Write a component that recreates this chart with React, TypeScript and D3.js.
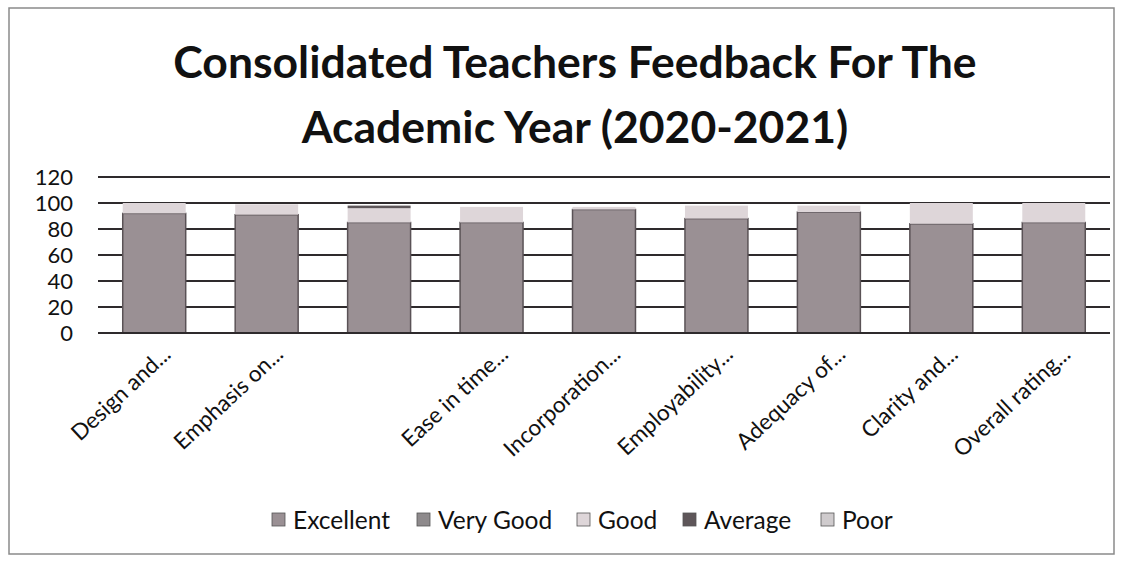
import React from 'react';
import * as d3 from 'd3';

const categories = [
  'Design and...',
  'Emphasis on...',
  '',
  'Ease in time...',
  'Incorporation...',
  'Employability...',
  'Adequacy of...',
  'Clarity and...',
  'Overall rating...',
];
const seriesNames = ['Excellent', 'Very Good', 'Good', 'Average', 'Poor'];
const excellent = [92, 91, 85, 85, 95, 88, 93, 84, 85];
const veryGood = [0, 0, 0, 0, 0, 0, 0, 0, 0];
const good = [8, 8, 11, 12, 2, 10, 5, 16, 15];
const average = [0, 0, 2, 0, 0, 0, 0, 0, 0];
const poor = [0, 0, 0, 0, 0, 0, 0, 0, 0];
const yTicks = [0, 20, 40, 60, 80, 100, 120];

const colors = ['#9a9094', '#8e8a8c', '#ded6d9', '#5e5659', '#cfcbcd'];
const font = 'Lato, "Open Sans", sans-serif';

export default function App() {
  const W = 1126, H = 561;
  const keys = d3.range(categories.length).map(String);
  const x = d3.scaleBand().domain(keys).range([98, 1110]).paddingInner(0.44).paddingOuter(0.22);
  const y = d3.scaleLinear().domain([0, 120]).range([333, 177]);

  const rows = categories.map((c, i) => ({
    Excellent: excellent[i],
    'Very Good': veryGood[i],
    Good: good[i],
    Average: average[i],
    Poor: poor[i],
  }));
  const stacked = d3.stack<any>().keys(seriesNames)(rows);

  const legendX = [272, 417, 577, 683, 821];

  return (
    <svg width={W} height={H} style={{ position: 'absolute', left: 0, top: 0, background: '#fff' }}>
      <rect x={9} y={8} width={1105} height={546} fill="#fff" stroke="#8a8a8a" strokeWidth={1.5} />

      <text x={575} y={78} textAnchor="middle" fontFamily={font} fontWeight={700} fontSize={44.5} fill="#111">
        Consolidated Teachers Feedback For The
      </text>
      <text x={575} y={143} textAnchor="middle" fontFamily={font} fontWeight={700} fontSize={44.5} fill="#111">
        Academic Year (2020-2021)
      </text>

      {/* gridlines first, bars painted over them */}
      {yTicks.map(t => (
        <g key={t}>
          <line x1={98} x2={1110} y1={y(t)} y2={y(t)} stroke="#2e2a2c" strokeWidth={2} />
          <text x={73} y={y(t)} dy="0.35em" textAnchor="end" fontFamily={font} fontSize={22} fill="#111">{t}</text>
        </g>
      ))}

      {stacked.map((s, si) => (
        <g key={s.key}>
          {s.map((d, i) => d[1] - d[0] > 0 ? (
            <rect key={i} x={x(String(i))} width={x.bandwidth()} y={y(d[1])} height={y(d[0]) - y(d[1])}
              fill={colors[si]} stroke={si === 0 ? '#5a5256' : 'none'} strokeWidth={1.5} />
          ) : null)}
        </g>
      ))}
      <line x1={98} x2={1110} y1={y(0)} y2={y(0)} stroke="#2e2a2c" strokeWidth={2} />

      {categories.map((c, i) => {
        const cx = (x(String(i)) as number) + x.bandwidth() / 2 + 18;
        return c ? (
          <text key={i} transform={`translate(${cx},356) rotate(-43)`} textAnchor="end"
            fontFamily={font} fontSize={22.5} fill="#111">{c}</text>
        ) : null;
      })}

      {seriesNames.map((n, i) => (
        <g key={n}>
          <rect x={legendX[i]} y={513} width={13} height={13} fill={colors[i]} stroke="#555" strokeWidth={0.8} />
          <text x={legendX[i] + 21} y={520} dy="0.35em" fontFamily={font} fontSize={24.5} fill="#111">{n}</text>
        </g>
      ))}
    </svg>
  );
}
